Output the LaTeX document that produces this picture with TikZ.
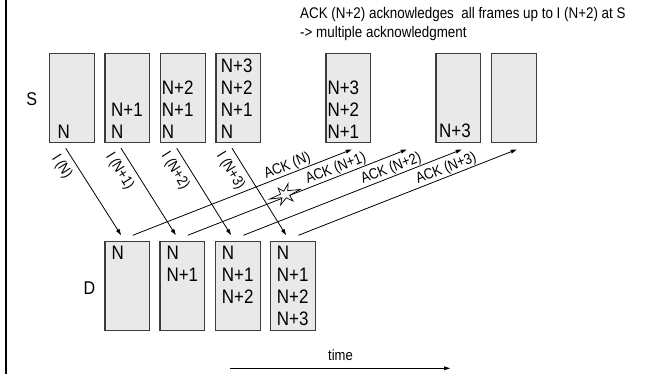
\documentclass[tikz,border=0pt]{standalone}
\usepackage{fontspec}
\setmainfont[FakeStretch=0.87]{Liberation Sans}
\usetikzlibrary{arrows.meta,calc}
\definecolor{framefill}{RGB}{233,233,233}
\definecolor{frameedge}{RGB}{60,60,60}
\newcommand{\fsz}[2]{\fontsize{#1}{#2}\selectfont}

\begin{document}
\begin{tikzpicture}[x=1pt,y=-1pt,
  buffer/.style={draw=frameedge, fill=framefill, line width=1.2pt,
    minimum width=44.8pt, minimum height=89pt, inner sep=0pt, anchor=north west},
  stack/.style={inner sep=0pt, align=left, font=\fsz{19.5}{22}},
  sstack/.style={stack, anchor=south west},
  dstack/.style={stack, anchor=north west},
  side/.style={inner sep=0pt, anchor=base, font=\fsz{18.5}{20}},
  msg/.style={line width=0.8pt, -{Triangle[length=6pt,width=3.8pt]}},
  ilabel/.style={sloped, below=6pt, inner sep=0pt, font=\fsz{15}{17}},
  acklabel/.style={sloped, above=0.5pt, inner sep=0pt, font=\fsz{15}{17}},
  note/.style={inner sep=0pt, anchor=base west, font=\fsz{15.4}{19}},
  burst/.style={fill=white!92!gray, draw=black, line width=0.7pt, line join=miter}
]
\useasboundingbox (0,0) rectangle (645,374);

% left rule
\draw[line width=2.2pt] (6.2,0) -- (6.2,374);

% explanatory note
\node[note] (note1) at (300,18.3) {ACK (N+2) acknowledges~ all frames up to I (N+2) at S};
\node[note] (note2) at (300,37.4) {-> multiple acknowledgment};

% station labels
\node[side] (S) at (31.7,106) {S};
\node[side] (D) at (89.5,294) {D};

% sender buffers
\node[buffer] (s1) at (49,53.3) {};
\node[buffer] (s2) at (104.3,53.3) {};
\node[buffer] (s3) at (160,53.3) {};
\node[buffer] (s4) at (215.3,53.3) {};
\node[buffer] (s5) at (325.3,53.3) {};
\node[buffer] (s6) at (435.3,53.3) {};
\node[buffer] (s7) at (490.7,53.3) {};

\node[sstack] (st1) at (57.5,138.3) {N};
\node[sstack] (st2) at (111,138.3) {N+1\\N};
\node[sstack] (st3) at (161.7,138.3) {N+2\\N+1\\N};
\node[sstack] (st4) at (220.7,138.3) {N+3\\N+2\\N+1\\N};
\node[sstack] (st5) at (327.3,138.3) {N+3\\N+2\\N+1};
\node[sstack] (st6) at (439,138.3) {N+3};

% receiver buffers
\node[buffer] (d1) at (104.3,241) {};
\node[buffer] (d2) at (159.3,241) {};
\node[buffer] (d3) at (215,241) {};
\node[buffer] (d4) at (270,241) {};

\node[dstack] (dt1) at (111.3,245.7) {N};
\node[dstack] (dt2) at (166.3,245.7) {N\\N+1};
\node[dstack] (dt3) at (221.7,245.7) {N\\N+1\\N+2};
\node[dstack] (dt4) at (276.7,245.7) {N\\N+1\\N+2\\N+3};

% information frames S -> D
\draw[msg] ($(s1.south west)+(16.7,4.7)$) -- node[ilabel, pos=0.13] {I (N)} ($(d1.north west)+(16.7,-6)$);
\draw[msg] ($(s2.south west)+(16.7,4.7)$) -- node[ilabel, pos=0.18] {I (N+1)} ($(d2.north west)+(16.4,-6)$);
\draw[msg] ($(s3.south west)+(16.7,4.7)$) -- node[ilabel, pos=0.18] {I (N+2)} ($(d3.north west)+(16,-6)$);
\draw[msg] ($(s4.south west)+(16.7,4.7)$) -- node[ilabel, pos=0.18] {I (N+3)} ($(d4.north west)+(16,-6)$);

% acknowledgements D -> S
\coordinate (gap) at ($(s5.south west)+(81.4,6)$);
\draw[msg] ($(d1.north west)+(28.4,-5.7)$) -- node[acklabel, pos=0.72] {ACK (N)} ($(s5.south west)+(26.4,6)$);
\draw[msg] ($(d2.north west)+(28.4,-5.7)$) -- node[acklabel, pos=0.69] {ACK (N+1)} (gap);
\draw[msg] ($(d3.north west)+(28.4,-5.7)$) -- node[acklabel, pos=0.69] {ACK (N+2)} ($(s6.south west)+(26.4,6)$);
\draw[msg] ($(d4.north west)+(28.4,-5.7)$) -- node[acklabel, pos=0.69] {ACK (N+3)} ($(s7.south west)+(26,6)$);

% lost acknowledgement
\begin{scope}[shift={(285,194.5)}, rotate=22]
  \draw[burst] (16,1) -- (4,-2.5) -- (7,-9) -- (0,-3.5) -- (-4,-8.5) -- (-4,-2)
    -- (-16,-1.5) -- (-4,1.8) -- (-8,8) -- (0,3.5) -- (5,9) -- (4,2.5) -- cycle;
\end{scope}

% time axis
\coordinate (t0) at (230,368.3);
\coordinate (t1) at (450,368.3);
\draw[msg] (t0) -- (t1);
\node[inner sep=0pt, anchor=base, font=\fsz{15}{17}] (time) at (340.5,360) {time};
\end{tikzpicture}
\end{document}
